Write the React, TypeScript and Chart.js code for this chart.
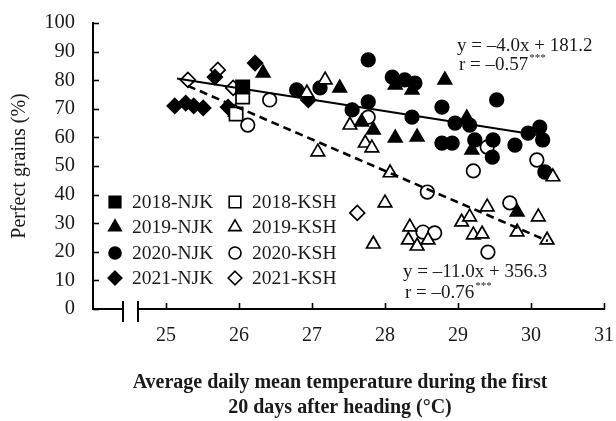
import React, { useEffect, useRef } from 'react';
import { Chart, registerables } from 'chart.js';

Chart.register(...registerables);

const FONT = "'Liberation Serif', 'Times New Roman', serif";
const INK = '#1a1a1a';

// ---- axes ----
const xTicks = [25, 26, 27, 28, 29, 30, 31];
const yTicks = [0, 10, 20, 30, 40, 50, 60, 70, 80, 90, 100];
const xRange = [24, 31];
const yRange = [0, 100];
const axisBreak = [24.41, 24.62];
const yTitle = 'Perfect grains (%)';
const xTitle = ['Average daily mean temperature during the first', '20 days after heading (°C)'];

// ---- series (x = temperature, y = perfect grains %) ----
const njk2018 = [[26.05, 77.6]];
const ksh2018 = [[26.05, 74.1], [25.96, 68.2]];
const njk2019 = [
  [26.33, 82.5], [27.38, 77.3], [27.68, 65.4], [27.84, 62.6], [28.14, 78.3], [28.37, 76.6],
  [28.82, 80.1], [28.14, 59.8], [28.44, 60.1], [29.12, 66.8], [29.19, 55.6], [29.81, 33.9],
];
const ksh2019 = [
  [25.95, 68.9], [26.93, 75.5], [27.18, 80.1], [27.08, 54.9], [27.52, 64.3], [27.73, 58.0],
  [27.82, 56.3], [28.07, 47.6], [28.0, 37.1], [27.84, 22.7], [28.34, 28.7], [28.32, 24.1],
  [28.44, 22.0], [28.59, 24.1], [29.05, 30.4], [29.16, 32.2], [29.4, 35.7], [29.21, 25.9],
  [29.33, 26.2], [29.81, 26.9], [30.1, 32.2], [30.22, 24.1], [30.3, 46.2],
];
const njk2020 = [
  [26.79, 76.6], [27.11, 77.3], [27.55, 69.6], [27.77, 72.4], [27.77, 87.1], [28.1, 81.1],
  [28.27, 80.1], [28.41, 79.0], [28.37, 67.1], [28.78, 70.6], [28.78, 58.0], [28.92, 58.0],
  [28.96, 65.0], [29.16, 64.3], [29.23, 59.1], [29.48, 59.1], [29.47, 53.1], [29.53, 73.1],
  [29.78, 57.3], [29.96, 61.5], [30.12, 63.6], [30.16, 59.1], [30.19, 47.9],
];
const ksh2020 = [
  [26.12, 64.3], [26.42, 73.1], [27.77, 67.1], [28.58, 40.9], [28.52, 26.9], [28.68, 26.6],
  [29.21, 48.3], [29.4, 56.6], [29.41, 19.9], [29.71, 37.1], [30.08, 52.1],
];
const njk2021 = [
  [25.12, 71.0], [25.27, 72.0], [25.38, 71.0], [25.51, 70.3], [25.67, 81.1], [25.85, 70.6],
  [26.22, 86.0], [26.95, 73.1],
];
const ksh2021 = [[25.3, 80.1], [25.71, 83.6], [25.92, 77.3], [27.62, 33.6]];

// ---- regressions ----
const fitNJK = { slope: -4.0, intercept: 181.2, from: 25.15, to: 30.2 };
const fitKSH = { slope: -11.0, intercept: 356.3, from: 25.3, to: 30.23 };
const eqNJK = ['y = –4.0x + 181.2', 'r = –0.57', '***'];
const eqKSH = ['y = –11.0x + 356.3', 'r = –0.76', '***'];

const series = [
  { label: '2018-NJK', data: njk2018, style: 'rect', filled: true },
  { label: '2018-KSH', data: ksh2018, style: 'rect', filled: false },
  { label: '2019-NJK', data: njk2019, style: 'triangle', filled: true },
  { label: '2019-KSH', data: ksh2019, style: 'triangle', filled: false },
  { label: '2020-NJK', data: njk2020, style: 'circle', filled: true },
  { label: '2020-KSH', data: ksh2020, style: 'circle', filled: false },
  { label: '2021-NJK', data: njk2021, style: 'rectRot', filled: true },
  { label: '2021-KSH', data: ksh2021, style: 'rectRot', filled: false },
];

const radiusFor: Record<string, number> = { rect: 9.4, triangle: 7.8, circle: 6.8, rectRot: 7.4 };

function fitLine(f: { slope: number; intercept: number; from: number; to: number }) {
  return [f.from, f.to].map((x) => ({ x, y: f.slope * x + f.intercept }));
}

function drawMarker(ctx: CanvasRenderingContext2D, style: string, x: number, y: number, filled: boolean) {
  ctx.beginPath();
  if (style === 'rect') {
    const s = 5.8;
    ctx.rect(x - s, y - s, 2 * s, 2 * s);
  } else if (style === 'triangle') {
    const r = 7.2;
    ctx.moveTo(x, y - r);
    ctx.lineTo(x + r * 0.866, y + r / 2);
    ctx.lineTo(x - r * 0.866, y + r / 2);
    ctx.closePath();
  } else if (style === 'circle') {
    ctx.arc(x, y, 6, 0, Math.PI * 2);
  } else {
    const r = 6.8;
    ctx.moveTo(x, y - r);
    ctx.lineTo(x + r, y);
    ctx.lineTo(x, y + r);
    ctx.lineTo(x - r, y);
    ctx.closePath();
  }
  ctx.fillStyle = filled ? '#000' : '#fff';
  ctx.fill();
  ctx.lineWidth = 1.6;
  ctx.strokeStyle = '#000';
  ctx.stroke();
}

const overlay = {
  id: 'overlay',
  afterDraw(chart: any) {
    const { ctx, chartArea, scales } = chart;
    const xs = scales.x;
    const ys = scales.y;
    ctx.save();
    ctx.strokeStyle = '#000';
    ctx.lineWidth = 1.6;
    // inward tick marks
    yTicks.forEach((v) => {
      const py = Math.round(ys.getPixelForValue(v)) + 0.5;
      ctx.beginPath();
      ctx.moveTo(chartArea.left, py);
      ctx.lineTo(chartArea.left + 6, py);
      ctx.stroke();
    });
    xTicks.forEach((v) => {
      const px = Math.round(xs.getPixelForValue(v)) + 0.5;
      ctx.beginPath();
      ctx.moveTo(px, chartArea.bottom);
      ctx.lineTo(px, chartArea.bottom - 6);
      ctx.stroke();
    });
    // axis break
    const b1 = Math.round(xs.getPixelForValue(axisBreak[0]));
    const b2 = Math.round(xs.getPixelForValue(axisBreak[1]));
    ctx.fillStyle = '#fff';
    ctx.fillRect(b1 + 1, chartArea.bottom - 3, b2 - b1 - 2, 6);
    ctx.lineWidth = 2;
    [b1, b2].forEach((b) => {
      ctx.beginPath();
      ctx.moveTo(b, chartArea.bottom - 8);
      ctx.lineTo(b, chartArea.bottom + 13);
      ctx.stroke();
    });

    // legend
    const rowsY = [202, 227, 253, 278];
    const colMarkerX = [115, 235];
    const colTextX = [132, 252];
    ctx.textBaseline = 'middle';
    ctx.textAlign = 'left';
    series.forEach((s, i) => {
      const row = Math.floor(i / 2);
      const col = i % 2;
      drawMarker(ctx, s.style, colMarkerX[col], rowsY[row], s.filled);
      ctx.fillStyle = INK;
      ctx.font = `19.5px ${FONT}`;
      ctx.fillText(s.label, colTextX[col], rowsY[row] + 1);
    });

    // equations
    const drawEq = (eq: string[], x: number, y1: number, y2: number) => {
      ctx.fillStyle = INK;
      ctx.font = `19px ${FONT}`;
      ctx.textAlign = 'left';
      ctx.textBaseline = 'middle';
      ctx.fillText(eq[0], x, y1);
      ctx.fillText(eq[1], x + 2, y2);
      const w = ctx.measureText(eq[1]).width;
      ctx.font = `11px ${FONT}`;
      ctx.fillText(eq[2], x + 2 + w + 1, y2 - 7);
    };
    drawEq(eqNJK, 457, 46, 65);
    drawEq(eqKSH, 403, 272, 293);

    // x title
    ctx.fillStyle = INK;
    ctx.font = `bold 20px ${FONT}`;
    ctx.textAlign = 'center';
    ctx.textBaseline = 'middle';
    ctx.fillText(xTitle[0], 340, 383);
    ctx.fillText(xTitle[1], 340, 408);
    ctx.restore();
  },
};

export default function App() {
  const ref = useRef<HTMLCanvasElement | null>(null);

  useEffect(() => {
    if (!ref.current) return;
    const datasets: any[] = [
      {
        label: 'fit NJK',
        data: fitLine(fitNJK),
        showLine: true,
        pointRadius: 0,
        borderColor: '#000',
        borderWidth: 2,
        fill: false,
      },
      {
        label: 'fit KSH',
        data: fitLine(fitKSH),
        showLine: true,
        pointRadius: 0,
        borderColor: '#000',
        borderWidth: 2.6,
        borderDash: [8, 5],
        fill: false,
      },
      ...series.map((s) => ({
        label: s.label,
        data: s.data.map(([x, y]) => ({ x, y })),
        pointStyle: s.style,
        pointRadius: radiusFor[s.style],
        pointBackgroundColor: s.filled ? '#000' : '#fff',
        pointBorderColor: '#000',
        pointBorderWidth: 1.7,
        showLine: false,
      })),
    ];

    const chart = new Chart(ref.current, {
      type: 'scatter',
      data: { datasets },
      options: {
        responsive: false,
        animation: false,
        events: [],
        devicePixelRatio: 1,
        layout: { padding: { top: 23, right: 12, bottom: 0, left: 0 } },
        plugins: { legend: { display: false }, tooltip: { enabled: false } },
        scales: {
          x: {
            type: 'linear',
            min: xRange[0],
            max: xRange[1],
            afterBuildTicks: (scale: any) => {
              scale.ticks = xTicks.map((v) => ({ value: v }));
            },
            afterFit: (scale: any) => {
              scale.height = 112;
              scale.paddingLeft = 0;
              scale.paddingRight = 0;
            },
            grid: { display: false, drawTicks: false },
            border: { display: true, color: '#000', width: 2 },
            ticks: {
              font: { family: FONT, size: 20 },
              color: INK,
              padding: 15,
              maxRotation: 0,
              autoSkip: false,
              callback: (v: any) => String(v),
            },
            title: { display: false },
          },
          y: {
            type: 'linear',
            min: yRange[0],
            max: yRange[1],
            afterBuildTicks: (scale: any) => {
              scale.ticks = yTicks.map((v) => ({ value: v }));
            },
            afterFit: (scale: any) => {
              scale.width = 93;
              scale.paddingTop = 0;
              scale.paddingBottom = 0;
            },
            grid: { display: false, drawTicks: false },
            border: { display: true, color: '#000', width: 2 },
            ticks: {
              font: { family: FONT, size: 20.5 },
              color: INK,
              padding: 18,
              autoSkip: false,
              callback: (v: any) => String(v),
            },
            title: {
              display: true,
              text: yTitle,
              color: INK,
              font: { family: FONT, size: 20 },
              padding: { top: 8, bottom: 0 },
            },
          },
        },
      },
      plugins: [overlay],
    });
    return () => chart.destroy();
  }, []);

  return (
    <div style={{ position: 'absolute', left: 0, top: 0, width: 616, height: 421, background: '#fff' }}>
      <canvas ref={ref} width={616} height={421} style={{ display: 'block' }} />
    </div>
  );
}
